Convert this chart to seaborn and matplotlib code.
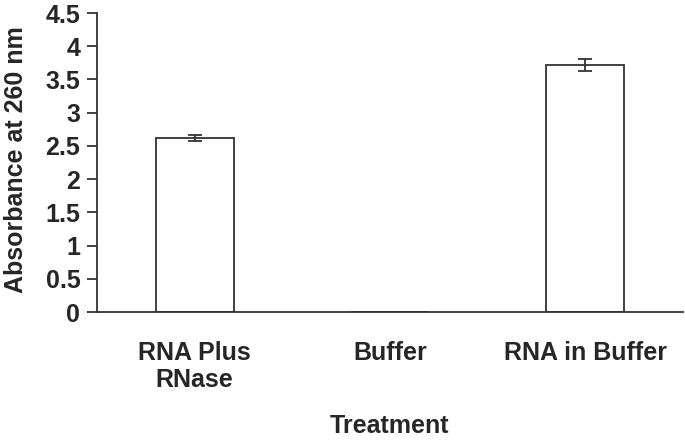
import matplotlib
matplotlib.use("Agg")
import matplotlib.pyplot as plt
import seaborn as sns
import pandas as pd

categories = ["RNA Plus\nRNase", "Buffer", "RNA in Buffer"]
values = [2.62, 0.0, 3.72]
errors = [0.04, 0.0, 0.09]
yticks = [0, 0.5, 1, 1.5, 2, 2.5, 3, 3.5, 4, 4.5]
ytick_labels = ["0", "0.5", "1", "1.5", "2", "2.5", "3", "3.5", "4", "4.5"]

sns.set_style("white")
plt.rcParams["font.family"] = ["Liberation Sans", "DejaVu Sans"]
plt.rcParams["font.weight"] = "bold"

df = pd.DataFrame({"Treatment": categories, "Absorbance": values})

FS = 18
fig = plt.figure(figsize=(6.85, 4.41), dpi=100)
ax = fig.add_axes([0.1416, 0.2925, 0.855, 0.678])
edge = "#333333"
sns.barplot(data=df, x="Treatment", y="Absorbance", order=categories,
            color="white", edgecolor=edge, linewidth=1.3, width=0.4,
            errorbar=None, ax=ax)
for i, (v, e) in enumerate(zip(values, errors)):
    if e > 0:
        ax.errorbar(i, v, yerr=e, fmt="none", ecolor=edge, elinewidth=1.3,
                    capsize=5, capthick=1.3)

ax.set_xlim(-0.5, 2.5)
ax.set_ylim(0, 4.5)
ax.set_yticks(yticks)
ax.set_yticklabels(ytick_labels, fontsize=FS, fontweight="bold")
ax.set_xticks([-0.5, 0.5, 1.5, 2.5])
ax.set_xticklabels(["", "", "", ""])
ax.set_xticks([0, 1, 2], minor=True)
ax.set_xticklabels(categories, minor=True, fontsize=FS, fontweight="bold",
                   linespacing=1.15)
ax.tick_params(axis="x", which="minor", length=0, pad=21)
ax.tick_params(axis="x", which="major", length=6, width=1.3, color=edge, direction="out")
ax.tick_params(axis="y", length=7, width=1.3, color=edge, direction="out", pad=5, left=True)

for s in ["top", "right"]:
    ax.spines[s].set_visible(False)
for s in ["left", "bottom"]:
    ax.spines[s].set_color(edge)
    ax.spines[s].set_linewidth(1.3)

ax.set_xlabel("Treatment", fontsize=FS, fontweight="bold")
ax.set_ylabel("Absorbance at 260 nm", fontsize=FS, fontweight="bold")
ax.xaxis.set_label_coords(0.5, -0.34)
ax.yaxis.set_label_coords(-0.118, 0.51)

fig.savefig("out.png", dpi=100)
